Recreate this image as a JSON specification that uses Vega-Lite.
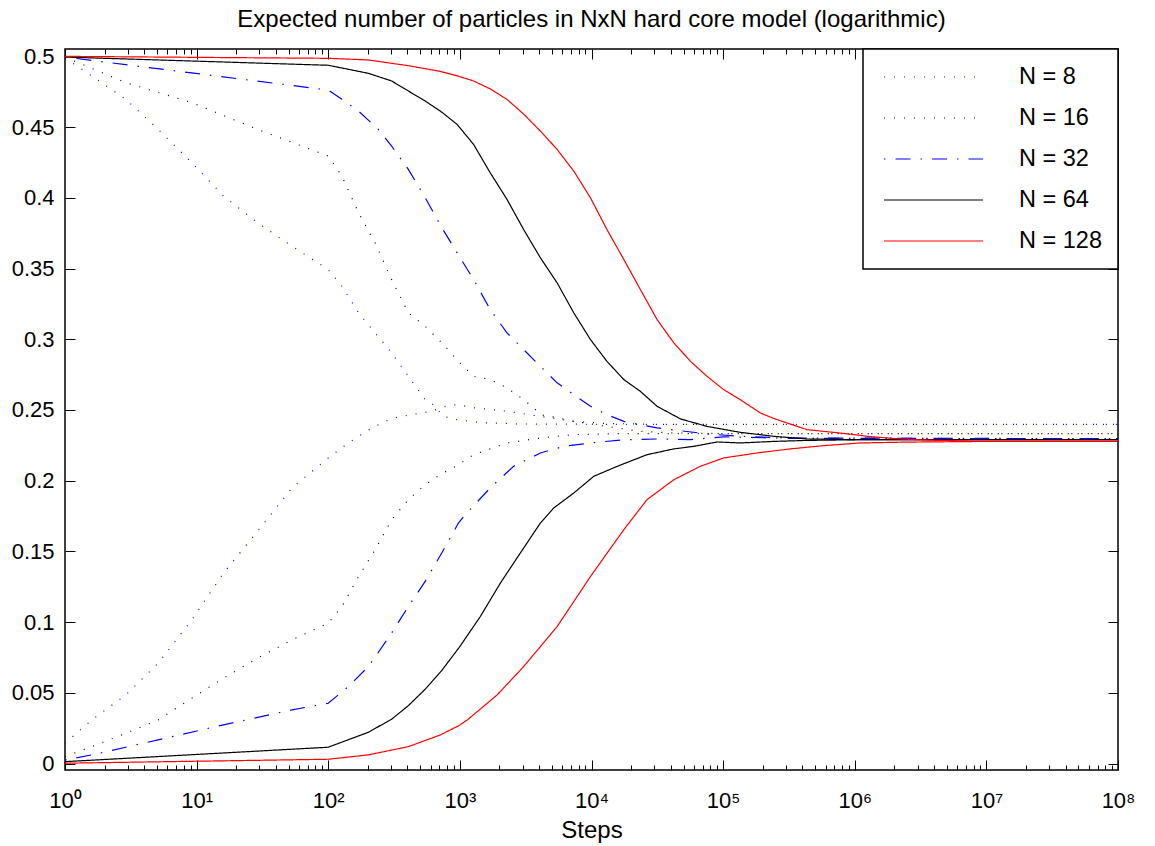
{
  "$schema": "https://vega.github.io/schema/vega-lite/v6.json",
  "width": 1053,
  "height": 721,
  "autosize": {"type": "none"},
  "padding": {"left": 65, "top": 49, "right": 37, "bottom": 76},
  "background": "white",
  "title": {"text": "Expected number of particles in NxN hard core model (logarithmic)", "font": "Liberation Sans", "fontSize": 24, "fontWeight": "normal", "color": "black", "anchor": "middle", "offset": 13},
  "config": {
    "view": {"stroke": "black", "strokeWidth": 1.5},
    "axis": {"domain": false, "grid": false, "tickColor": "black", "tickWidth": 1, "labelFont": "Liberation Sans", "labelFontSize": 22, "labelColor": "black", "titleFont": "Liberation Sans", "titleFontSize": 24, "titleFontWeight": "normal", "titleColor": "black", "labelOverlap": false, "labelBound": false, "labelFlush": false},
    "legend": {"orient": "top-right", "offset": 0, "padding": 16, "strokeColor": "black", "strokeWidth": 1.5, "fillColor": "white", "symbolType": "stroke", "symbolSize": 9801, "symbolStrokeWidth": 1.2, "symbolOffset": 4, "labelFont": "Liberation Sans", "labelFontSize": 23.5, "labelColor": "black", "labelOffset": 35, "clipHeight": 24, "rowPadding": 17, "title": null}
  },
  "data": {"values": [
    {"series":"N = 8","branch":"up","steps":1,"value":0.499},
    {"series":"N = 8","branch":"up","steps":1.6,"value":0.4861},
    {"series":"N = 8","branch":"up","steps":2.9,"value":0.4696},
    {"series":"N = 8","branch":"up","steps":5.1,"value":0.4484},
    {"series":"N = 8","branch":"up","steps":9.2,"value":0.4248},
    {"series":"N = 8","branch":"up","steps":16,"value":0.4012},
    {"series":"N = 8","branch":"up","steps":29,"value":0.3824},
    {"series":"N = 8","branch":"up","steps":53,"value":0.3658},
    {"series":"N = 8","branch":"up","steps":100,"value":0.3493},
    {"series":"N = 8","branch":"up","steps":127,"value":0.3375},
    {"series":"N = 8","branch":"up","steps":170,"value":0.3187},
    {"series":"N = 8","branch":"up","steps":227,"value":0.3045},
    {"series":"N = 8","branch":"up","steps":303,"value":0.2904},
    {"series":"N = 8","branch":"up","steps":406,"value":0.2738},
    {"series":"N = 8","branch":"up","steps":545,"value":0.2573},
    {"series":"N = 8","branch":"up","steps":650,"value":0.2530},
    {"series":"N = 8","branch":"up","steps":730,"value":0.2462},
    {"series":"N = 8","branch":"up","steps":850,"value":0.2440},
    {"series":"N = 8","branch":"up","steps":1000,"value":0.2428},
    {"series":"N = 8","branch":"up","steps":1500,"value":0.2410},
    {"series":"N = 8","branch":"up","steps":3000,"value":0.2401},
    {"series":"N = 8","branch":"up","steps":10000,"value":0.2399},
    {"series":"N = 8","branch":"up","steps":100000000,"value":0.2399},
    {"series":"N = 8","branch":"down","steps":1,"value":0.0144},
    {"series":"N = 8","branch":"down","steps":1.6,"value":0.0309},
    {"series":"N = 8","branch":"down","steps":2.9,"value":0.0486},
    {"series":"N = 8","branch":"down","steps":5.1,"value":0.071},
    {"series":"N = 8","branch":"down","steps":9.2,"value":0.1017},
    {"series":"N = 8","branch":"down","steps":16,"value":0.1347},
    {"series":"N = 8","branch":"down","steps":29,"value":0.1642},
    {"series":"N = 8","branch":"down","steps":53,"value":0.1949},
    {"series":"N = 8","branch":"down","steps":100,"value":0.2161},
    {"series":"N = 8","branch":"down","steps":142,"value":0.2267},
    {"series":"N = 8","branch":"down","steps":214,"value":0.2373},
    {"series":"N = 8","branch":"down","steps":303,"value":0.2440},
    {"series":"N = 8","branch":"down","steps":400,"value":0.2462},
    {"series":"N = 8","branch":"down","steps":600,"value":0.2490},
    {"series":"N = 8","branch":"down","steps":800,"value":0.2530},
    {"series":"N = 8","branch":"down","steps":950,"value":0.2538},
    {"series":"N = 8","branch":"down","steps":1300,"value":0.2515},
    {"series":"N = 8","branch":"down","steps":2300,"value":0.2491},
    {"series":"N = 8","branch":"down","steps":4100,"value":0.2455},
    {"series":"N = 8","branch":"down","steps":7300,"value":0.2420},
    {"series":"N = 8","branch":"down","steps":12600,"value":0.2405},
    {"series":"N = 8","branch":"down","steps":30000,"value":0.2399},
    {"series":"N = 8","branch":"down","steps":100000000,"value":0.2399},
    {"series":"N = 16","branch":"up","steps":1,"value":0.4995},
    {"series":"N = 16","branch":"up","steps":2.9,"value":0.4814},
    {"series":"N = 16","branch":"up","steps":9.2,"value":0.4673},
    {"series":"N = 16","branch":"up","steps":29,"value":0.4484},
    {"series":"N = 16","branch":"up","steps":100,"value":0.4295},
    {"series":"N = 16","branch":"up","steps":127,"value":0.4153},
    {"series":"N = 16","branch":"up","steps":170,"value":0.3894},
    {"series":"N = 16","branch":"up","steps":227,"value":0.3682},
    {"series":"N = 16","branch":"up","steps":303,"value":0.3423},
    {"series":"N = 16","branch":"up","steps":406,"value":0.3187},
    {"series":"N = 16","branch":"up","steps":545,"value":0.3092},
    {"series":"N = 16","branch":"up","steps":728,"value":0.2975},
    {"series":"N = 16","branch":"up","steps":975,"value":0.2844},
    {"series":"N = 16","branch":"up","steps":1270,"value":0.2738},
    {"series":"N = 16","branch":"up","steps":1700,"value":0.2715},
    {"series":"N = 16","branch":"up","steps":2280,"value":0.2656},
    {"series":"N = 16","branch":"up","steps":3050,"value":0.2573},
    {"series":"N = 16","branch":"up","steps":3640,"value":0.2515},
    {"series":"N = 16","branch":"up","steps":4090,"value":0.2467},
    {"series":"N = 16","branch":"up","steps":5480,"value":0.2445},
    {"series":"N = 16","branch":"up","steps":7330,"value":0.2420},
    {"series":"N = 16","branch":"up","steps":13100,"value":0.2384},
    {"series":"N = 16","branch":"up","steps":23500,"value":0.2349},
    {"series":"N = 16","branch":"up","steps":42200,"value":0.2338},
    {"series":"N = 16","branch":"up","steps":100000,"value":0.2333},
    {"series":"N = 16","branch":"up","steps":100000000,"value":0.2333},
    {"series":"N = 16","branch":"down","steps":1,"value":0.005},
    {"series":"N = 16","branch":"down","steps":1.6,"value":0.012},
    {"series":"N = 16","branch":"down","steps":2.9,"value":0.0215},
    {"series":"N = 16","branch":"down","steps":5.1,"value":0.0309},
    {"series":"N = 16","branch":"down","steps":9.2,"value":0.0463},
    {"series":"N = 16","branch":"down","steps":16,"value":0.0604},
    {"series":"N = 16","branch":"down","steps":29,"value":0.0746},
    {"series":"N = 16","branch":"down","steps":53,"value":0.0875},
    {"series":"N = 16","branch":"down","steps":100,"value":0.0993},
    {"series":"N = 16","branch":"down","steps":127,"value":0.1111},
    {"series":"N = 16","branch":"down","steps":170,"value":0.1323},
    {"series":"N = 16","branch":"down","steps":227,"value":0.1512},
    {"series":"N = 16","branch":"down","steps":303,"value":0.1724},
    {"series":"N = 16","branch":"down","steps":406,"value":0.1866},
    {"series":"N = 16","branch":"down","steps":545,"value":0.1972},
    {"series":"N = 16","branch":"down","steps":728,"value":0.205},
    {"series":"N = 16","branch":"down","steps":975,"value":0.2113},
    {"series":"N = 16","branch":"down","steps":1270,"value":0.2184},
    {"series":"N = 16","branch":"down","steps":2280,"value":0.2267},
    {"series":"N = 16","branch":"down","steps":4090,"value":0.2302},
    {"series":"N = 16","branch":"down","steps":7330,"value":0.2326},
    {"series":"N = 16","branch":"down","steps":16000,"value":0.2333},
    {"series":"N = 16","branch":"down","steps":100000000,"value":0.2333},
    {"series":"N = 32","branch":"up","steps":1,"value":0.4995},
    {"series":"N = 32","branch":"up","steps":100,"value":0.4762},
    {"series":"N = 32","branch":"up","steps":127,"value":0.4696},
    {"series":"N = 32","branch":"up","steps":170,"value":0.4613},
    {"series":"N = 32","branch":"up","steps":240,"value":0.4484},
    {"series":"N = 32","branch":"up","steps":303,"value":0.4366},
    {"series":"N = 32","branch":"up","steps":406,"value":0.4201},
    {"series":"N = 32","branch":"up","steps":545,"value":0.4001},
    {"series":"N = 32","branch":"up","steps":728,"value":0.3790},
    {"series":"N = 32","branch":"up","steps":953,"value":0.3611},
    {"series":"N = 32","branch":"up","steps":1270,"value":0.3423},
    {"series":"N = 32","branch":"up","steps":1700,"value":0.321},
    {"series":"N = 32","branch":"up","steps":2280,"value":0.3045},
    {"series":"N = 32","branch":"up","steps":3050,"value":0.2927},
    {"series":"N = 32","branch":"up","steps":4090,"value":0.2809},
    {"series":"N = 32","branch":"up","steps":5480,"value":0.2692},
    {"series":"N = 32","branch":"up","steps":7330,"value":0.2609},
    {"series":"N = 32","branch":"up","steps":9820,"value":0.2526},
    {"series":"N = 32","branch":"up","steps":13100,"value":0.2467},
    {"series":"N = 32","branch":"up","steps":17600,"value":0.242},
    {"series":"N = 32","branch":"up","steps":31500,"value":0.2373},
    {"series":"N = 32","branch":"up","steps":75500,"value":0.2331},
    {"series":"N = 32","branch":"up","steps":135000,"value":0.2314},
    {"series":"N = 32","branch":"up","steps":316000,"value":0.2302},
    {"series":"N = 32","branch":"up","steps":100000000,"value":0.2297},
    {"series":"N = 32","branch":"down","steps":1,"value":0.0026},
    {"series":"N = 32","branch":"down","steps":1.6,"value":0.0062},
    {"series":"N = 32","branch":"down","steps":5.1,"value":0.0168},
    {"series":"N = 32","branch":"down","steps":16,"value":0.0274},
    {"series":"N = 32","branch":"down","steps":53,"value":0.038},
    {"series":"N = 32","branch":"down","steps":100,"value":0.0427},
    {"series":"N = 32","branch":"down","steps":142,"value":0.0545},
    {"series":"N = 32","branch":"down","steps":202,"value":0.0686},
    {"series":"N = 32","branch":"down","steps":303,"value":0.0923},
    {"series":"N = 32","branch":"down","steps":406,"value":0.1111},
    {"series":"N = 32","branch":"down","steps":545,"value":0.1288},
    {"series":"N = 32","branch":"down","steps":728,"value":0.1489},
    {"series":"N = 32","branch":"down","steps":975,"value":0.1701},
    {"series":"N = 32","branch":"down","steps":1070,"value":0.1748},
    {"series":"N = 32","branch":"down","steps":1700,"value":0.1949},
    {"series":"N = 32","branch":"down","steps":2560,"value":0.2102},
    {"series":"N = 32","branch":"down","steps":4090,"value":0.2196},
    {"series":"N = 32","branch":"down","steps":6150,"value":0.2243},
    {"series":"N = 32","branch":"down","steps":9820,"value":0.2267},
    {"series":"N = 32","branch":"down","steps":17600,"value":0.229},
    {"series":"N = 32","branch":"down","steps":31600,"value":0.2295},
    {"series":"N = 32","branch":"down","steps":56000,"value":0.229},
    {"series":"N = 32","branch":"down","steps":100000,"value":0.231},
    {"series":"N = 32","branch":"down","steps":316000,"value":0.2300},
    {"series":"N = 32","branch":"down","steps":100000000,"value":0.2297},
    {"series":"N = 64","branch":"up","steps":1,"value":0.4995},
    {"series":"N = 64","branch":"up","steps":100,"value":0.4937},
    {"series":"N = 64","branch":"up","steps":202,"value":0.488},
    {"series":"N = 64","branch":"up","steps":303,"value":0.4826},
    {"series":"N = 64","branch":"up","steps":545,"value":0.4684},
    {"series":"N = 64","branch":"up","steps":711,"value":0.4613},
    {"series":"N = 64","branch":"up","steps":953,"value":0.4519},
    {"series":"N = 64","branch":"up","steps":1270,"value":0.4378},
    {"series":"N = 64","branch":"up","steps":1700,"value":0.4177},
    {"series":"N = 64","branch":"up","steps":2280,"value":0.3989},
    {"series":"N = 64","branch":"up","steps":3050,"value":0.3776},
    {"series":"N = 64","branch":"up","steps":4090,"value":0.3576},
    {"series":"N = 64","branch":"up","steps":5480,"value":0.3399},
    {"series":"N = 64","branch":"up","steps":7330,"value":0.3187},
    {"series":"N = 64","branch":"up","steps":9820,"value":0.2998},
    {"series":"N = 64","branch":"up","steps":13100,"value":0.2844},
    {"series":"N = 64","branch":"up","steps":17600,"value":0.2715},
    {"series":"N = 64","branch":"up","steps":23500,"value":0.2632},
    {"series":"N = 64","branch":"up","steps":31500,"value":0.2526},
    {"series":"N = 64","branch":"up","steps":47400,"value":0.2437},
    {"series":"N = 64","branch":"up","steps":75500,"value":0.2384},
    {"series":"N = 64","branch":"up","steps":135000,"value":0.2342},
    {"series":"N = 64","branch":"up","steps":243000,"value":0.2314},
    {"series":"N = 64","branch":"up","steps":435000,"value":0.2295},
    {"series":"N = 64","branch":"up","steps":1100000,"value":0.229},
    {"series":"N = 64","branch":"up","steps":100000000,"value":0.229},
    {"series":"N = 64","branch":"down","steps":1,"value":0.0014},
    {"series":"N = 64","branch":"down","steps":100,"value":0.0116},
    {"series":"N = 64","branch":"down","steps":202,"value":0.0222},
    {"series":"N = 64","branch":"down","steps":303,"value":0.0314},
    {"series":"N = 64","branch":"down","steps":406,"value":0.041},
    {"series":"N = 64","branch":"down","steps":545,"value":0.0526},
    {"series":"N = 64","branch":"down","steps":728,"value":0.0658},
    {"series":"N = 64","branch":"down","steps":1000,"value":0.0828},
    {"series":"N = 64","branch":"down","steps":1430,"value":0.104},
    {"series":"N = 64","branch":"down","steps":2030,"value":0.1276},
    {"series":"N = 64","branch":"down","steps":2880,"value":0.1489},
    {"series":"N = 64","branch":"down","steps":4090,"value":0.1701},
    {"series":"N = 64","branch":"down","steps":5160,"value":0.1807},
    {"series":"N = 64","branch":"down","steps":7330,"value":0.1913},
    {"series":"N = 64","branch":"down","steps":10400,"value":0.2031},
    {"series":"N = 64","branch":"down","steps":15700,"value":0.2102},
    {"series":"N = 64","branch":"down","steps":26400,"value":0.2184},
    {"series":"N = 64","branch":"down","steps":42200,"value":0.2225},
    {"series":"N = 64","branch":"down","steps":59800,"value":0.2243},
    {"series":"N = 64","branch":"down","steps":90200,"value":0.2274},
    {"series":"N = 64","branch":"down","steps":135000,"value":0.2267},
    {"series":"N = 64","branch":"down","steps":243000,"value":0.2278},
    {"series":"N = 64","branch":"down","steps":435000,"value":0.2285},
    {"series":"N = 64","branch":"down","steps":1100000,"value":0.229},
    {"series":"N = 64","branch":"down","steps":100000000,"value":0.229},
    {"series":"N = 128","branch":"up","steps":1,"value":0.5},
    {"series":"N = 128","branch":"up","steps":100,"value":0.4986},
    {"series":"N = 128","branch":"up","steps":200,"value":0.4975},
    {"series":"N = 128","branch":"up","steps":400,"value":0.4935},
    {"series":"N = 128","branch":"up","steps":700,"value":0.4895},
    {"series":"N = 128","branch":"up","steps":975,"value":0.486},
    {"series":"N = 128","branch":"up","steps":1270,"value":0.4826},
    {"series":"N = 128","branch":"up","steps":1700,"value":0.4770},
    {"series":"N = 128","branch":"up","steps":2280,"value":0.4696},
    {"series":"N = 128","branch":"up","steps":3050,"value":0.4592},
    {"series":"N = 128","branch":"up","steps":4090,"value":0.4472},
    {"series":"N = 128","branch":"up","steps":5480,"value":0.4342},
    {"series":"N = 128","branch":"up","steps":7330,"value":0.4189},
    {"series":"N = 128","branch":"up","steps":9820,"value":0.4},
    {"series":"N = 128","branch":"up","steps":13100,"value":0.3776},
    {"series":"N = 128","branch":"up","steps":17600,"value":0.3564},
    {"series":"N = 128","branch":"up","steps":23500,"value":0.3352},
    {"series":"N = 128","branch":"up","steps":31500,"value":0.3139},
    {"series":"N = 128","branch":"up","steps":42200,"value":0.2975},
    {"series":"N = 128","branch":"up","steps":56500,"value":0.2844},
    {"series":"N = 128","branch":"up","steps":75500,"value":0.2738},
    {"series":"N = 128","branch":"up","steps":101000,"value":0.2644},
    {"series":"N = 128","branch":"up","steps":135000,"value":0.2573},
    {"series":"N = 128","branch":"up","steps":192000,"value":0.2479},
    {"series":"N = 128","branch":"up","steps":243000,"value":0.244},
    {"series":"N = 128","branch":"up","steps":306000,"value":0.2408},
    {"series":"N = 128","branch":"up","steps":435000,"value":0.2361},
    {"series":"N = 128","branch":"up","steps":724000,"value":0.234},
    {"series":"N = 128","branch":"up","steps":1100000,"value":0.2321},
    {"series":"N = 128","branch":"up","steps":1240000,"value":0.2314},
    {"series":"N = 128","branch":"up","steps":2220000,"value":0.2295},
    {"series":"N = 128","branch":"up","steps":3980000,"value":0.2286},
    {"series":"N = 128","branch":"up","steps":10000000,"value":0.2278},
    {"series":"N = 128","branch":"up","steps":100000000,"value":0.2278},
    {"series":"N = 128","branch":"down","steps":1,"value":0.0003},
    {"series":"N = 128","branch":"down","steps":100,"value":0.0031},
    {"series":"N = 128","branch":"down","steps":202,"value":0.0062},
    {"series":"N = 128","branch":"down","steps":406,"value":0.012},
    {"series":"N = 128","branch":"down","steps":711,"value":0.0203},
    {"series":"N = 128","branch":"down","steps":975,"value":0.0267},
    {"series":"N = 128","branch":"down","steps":1140,"value":0.0309},
    {"series":"N = 128","branch":"down","steps":1920,"value":0.0486},
    {"series":"N = 128","branch":"down","steps":3050,"value":0.0686},
    {"series":"N = 128","branch":"down","steps":5480,"value":0.0969},
    {"series":"N = 128","branch":"down","steps":9820,"value":0.1323},
    {"series":"N = 128","branch":"down","steps":17600,"value":0.1654},
    {"series":"N = 128","branch":"down","steps":26400,"value":0.1866},
    {"series":"N = 128","branch":"down","steps":42200,"value":0.2007},
    {"series":"N = 128","branch":"down","steps":67100,"value":0.2102},
    {"series":"N = 128","branch":"down","steps":101000,"value":0.2161},
    {"series":"N = 128","branch":"down","steps":181000,"value":0.2196},
    {"series":"N = 128","branch":"down","steps":324000,"value":0.2225},
    {"series":"N = 128","branch":"down","steps":581000,"value":0.2248},
    {"series":"N = 128","branch":"down","steps":1100000,"value":0.2267},
    {"series":"N = 128","branch":"down","steps":2500000,"value":0.2273},
    {"series":"N = 128","branch":"down","steps":10000000,"value":0.2278},
    {"series":"N = 128","branch":"down","steps":100000000,"value":0.2278}
  ]},
  "layer": [
    {
      "mark": {"type": "line", "strokeWidth": 1.2, "clip": true},
      "encoding": {
        "x": {"field": "steps", "type": "quantitative",
              "scale": {"type": "log", "domain": [1, 100000000], "nice": false},
              "axis": {"orient": "bottom", "title": "Steps", "titlePadding": 2,
                       "values": [1,2,3,4,5,6,7,8,9,10,20,30,40,50,60,70,80,90,100,200,300,400,500,600,700,800,900,1000,2000,3000,4000,5000,6000,7000,8000,9000,10000,20000,30000,40000,50000,60000,70000,80000,90000,100000,200000,300000,400000,500000,600000,700000,800000,900000,1000000,2000000,3000000,4000000,5000000,6000000,7000000,8000000,9000000,10000000,20000000,30000000,40000000,50000000,60000000,70000000,80000000,90000000,100000000],
                       "tickSize": {"condition": {"test": "abs(log(datum.value)/LN10 - round(log(datum.value)/LN10)) < 1e-6", "value": -10}, "value": -5},
                       "labelPadding": 30,
                       "labelExpr": "abs(log(datum.value)/LN10 - round(log(datum.value)/LN10)) < 1e-6 ? '10' + ['⁰','¹','²','³','⁴','⁵','⁶','⁷','⁸'][round(log(datum.value)/LN10)] : ''"}},
        "y": {"field": "value", "type": "quantitative",
              "scale": {"domain": [-0.0045, 0.5052], "nice": false, "zero": false},
              "axis": {"orient": "left", "title": null, "values": [0,0.05,0.1,0.15,0.2,0.25,0.3,0.35,0.4,0.45,0.5], "format": "~g", "tickSize": -10, "labelPadding": 21}},
        "color": {"field": "series", "type": "nominal",
                  "scale": {"domain": ["N = 8","N = 16","N = 32","N = 64","N = 128"], "range": ["#0000ff","#000000","#0000ff","#000000","#ff0000"]},
                  "legend": {"title": null}},
        "strokeDash": {"field": "series", "type": "nominal",
                  "scale": {"domain": ["N = 8","N = 16","N = 32","N = 64","N = 128"], "range": [[1,9],[1,9],[1.5,10,15,10],[1,0],[1,0]]},
                  "legend": {"title": null}},
        "detail": {"field": "branch", "type": "nominal"}
      }
    },
    {
      "mark": {"type": "point", "opacity": 0},
      "encoding": {
        "x": {"field": "steps", "type": "quantitative",
              "axis": {"orient": "top", "title": null, "labels": false,
                       "values": [1,2,3,4,5,6,7,8,9,10,20,30,40,50,60,70,80,90,100,200,300,400,500,600,700,800,900,1000,2000,3000,4000,5000,6000,7000,8000,9000,10000,20000,30000,40000,50000,60000,70000,80000,90000,100000,200000,300000,400000,500000,600000,700000,800000,900000,1000000,2000000,3000000,4000000,5000000,6000000,7000000,8000000,9000000,10000000,20000000,30000000,40000000,50000000,60000000,70000000,80000000,90000000,100000000],
                       "tickSize": {"condition": {"test": "abs(log(datum.value)/LN10 - round(log(datum.value)/LN10)) < 1e-6", "value": -10}, "value": -5}}},
        "y": {"field": "value", "type": "quantitative",
              "axis": {"orient": "right", "title": null, "labels": false, "values": [0,0.05,0.1,0.15,0.2,0.25,0.3,0.35,0.4,0.45,0.5], "tickSize": -10}}
      }
    }
  ],
  "resolve": {"axis": {"x": "independent", "y": "independent"}}
}
